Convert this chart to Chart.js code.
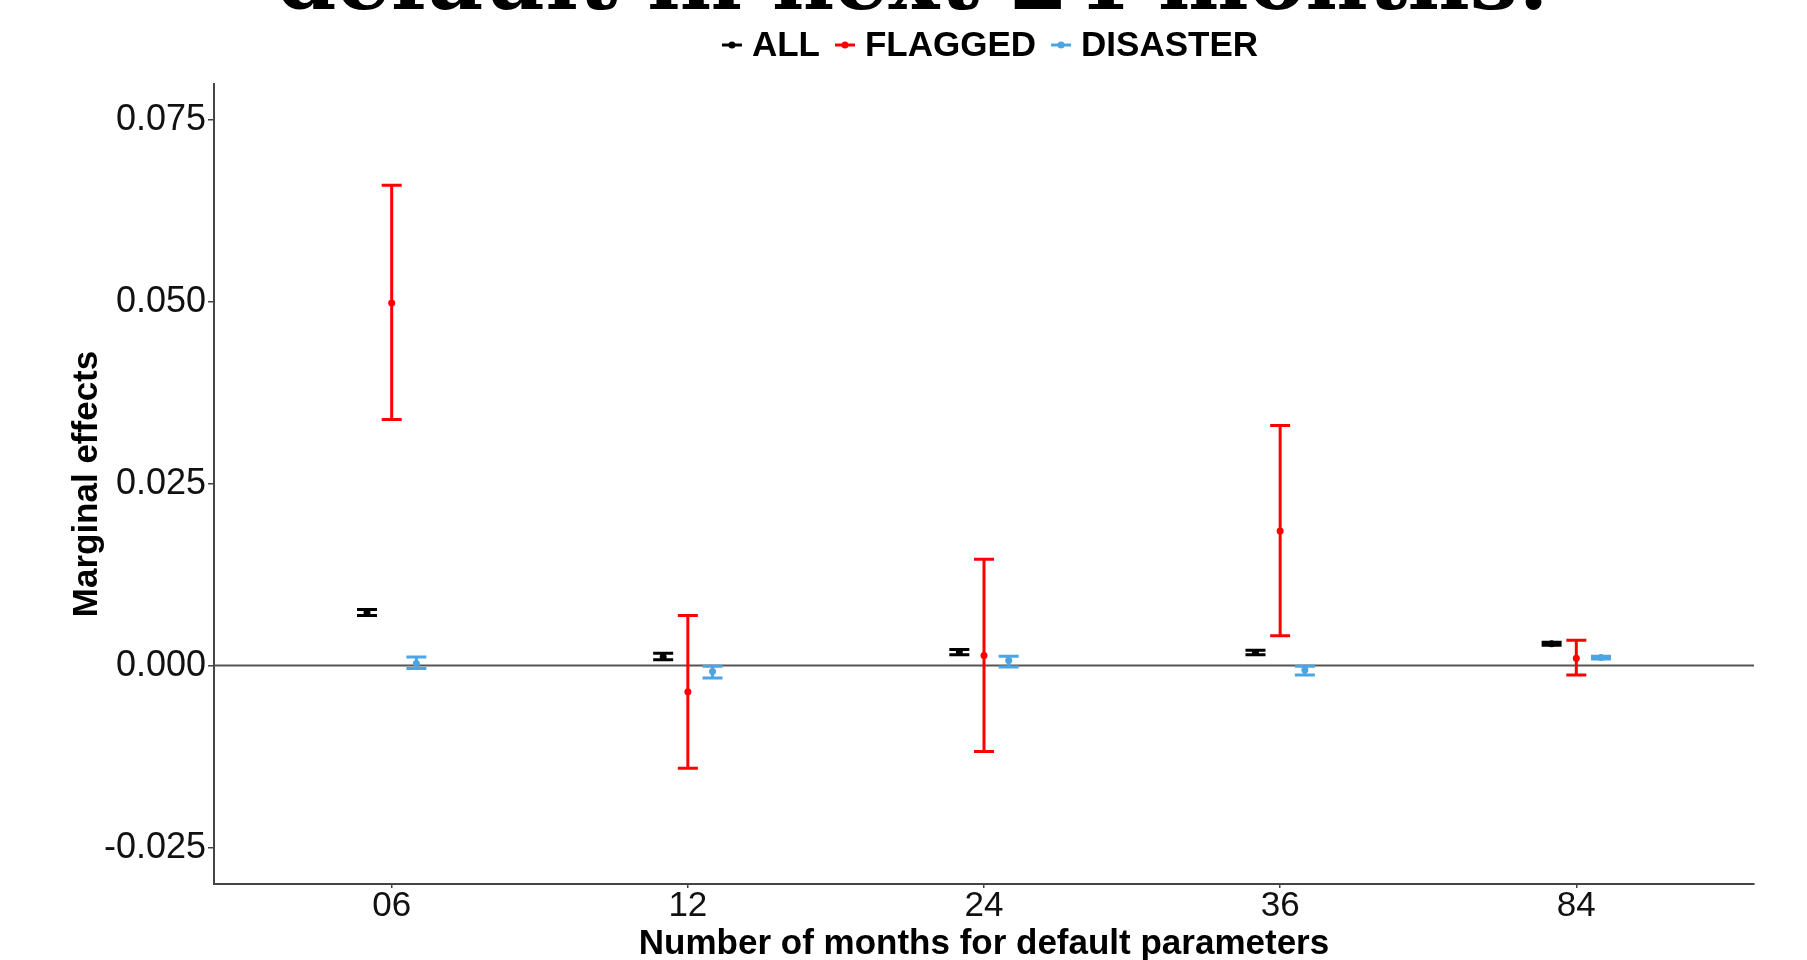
<!DOCTYPE html>
<html>
<head>
<meta charset="utf-8">
<script src="https://cdn.jsdelivr.net/npm/chart.js@4.4.1/dist/chart.umd.min.js"></script>
<style>
  html, body { margin: 0; padding: 0; background: #ffffff; }
  #wrap { width: 1807px; height: 960px; position: relative; }
</style>
</head>
<body>
<div id="wrap"><canvas id="c" width="1807" height="960"></canvas></div>
<script>
// Horizon (months) used to build the default parameters
const categories = ['06', '12', '24', '36', '84'];

// Marginal effects with 95% confidence bounds, one set per sample
const allEst  = [0.0073, 0.0012, 0.0019, 0.0018, 0.0030];
const allLow  = [0.0069, 0.0008, 0.0015, 0.0015, 0.0028];
const allHigh = [0.0077, 0.0017, 0.0022, 0.0021, 0.0032];

const flaggedEst  = [0.0498, -0.0036, 0.0014, 0.0185, 0.0010];
const flaggedLow  = [0.0338, -0.0141, -0.0118, 0.0041, -0.0013];
const flaggedHigh = [0.0660, 0.0069, 0.0146, 0.0330, 0.0035];

const disasterEst  = [0.0003, -0.0008, 0.0007, -0.0006, 0.0011];
const disasterLow  = [-0.0004, -0.0017, -0.0002, -0.0013, 0.0009];
const disasterHigh = [0.0012, -0.0001, 0.0013, -0.0001, 0.0013];

const yTicks = [-0.025, 0, 0.025, 0.05, 0.075];

const headline = 'default in next 24 months:';

// Side-by-side dodge of the three samples inside each horizon
const DODGE = 0.25 / 3;
const CAP_HALF = 10;

const series = [
  { name: 'ALL',      est: allEst,      low: allLow,      high: allHigh,      color: '#000000', shift: -DODGE },
  { name: 'FLAGGED',  est: flaggedEst,  low: flaggedLow,  high: flaggedHigh,  color: '#FF0000', shift: 0 },
  { name: 'DISASTER', est: disasterEst, low: disasterLow, high: disasterHigh, color: '#4BA5E2', shift: DODGE }
];

const SANS = '"Liberation Sans", Arial, Helvetica, sans-serif';

const datasets = series.map(s => ({
  type: 'scatter',
  label: s.name,
  data: s.est.map((v, i) => ({ x: i + s.shift, y: v, low: s.low[i], high: s.high[i] })),
  backgroundColor: s.color,
  borderColor: s.color,
  borderWidth: 0,
  pointRadius: 3.5,
  pointHoverRadius: 3.5
}));

// Zero reference line and confidence intervals, drawn beneath the point markers
const errorBars = {
  id: 'errorBars',
  beforeDatasetsDraw(chart) {
    const { ctx, chartArea, scales } = chart;
    const y = scales.y;
    ctx.save();
    const y0 = y.getPixelForValue(0);
    ctx.strokeStyle = '#555555';
    ctx.lineWidth = 2;
    ctx.beginPath();
    ctx.moveTo(chartArea.left, y0);
    ctx.lineTo(chartArea.right, y0);
    ctx.stroke();

    chart.data.datasets.forEach((ds, di) => {
      const meta = chart.getDatasetMeta(di);
      ctx.strokeStyle = ds.borderColor;
      ctx.lineWidth = 3;
      ctx.lineCap = 'butt';
      meta.data.forEach((pt, i) => {
        const d = ds.data[i];
        const px = pt.x;
        const yl = y.getPixelForValue(d.low);
        const yh = y.getPixelForValue(d.high);
        ctx.beginPath();
        ctx.moveTo(px, yl); ctx.lineTo(px, yh);
        ctx.moveTo(px - CAP_HALF, yl); ctx.lineTo(px + CAP_HALF, yl);
        ctx.moveTo(px - CAP_HALF, yh); ctx.lineTo(px + CAP_HALF, yh);
        ctx.stroke();
      });
    });
    ctx.restore();
  }
};

// Horizontal key above the panel and the heading line at the very top
const keyAndHeading = {
  id: 'keyAndHeading',
  afterDraw(chart) {
    const { ctx } = chart;
    ctx.save();

    // heading
    ctx.fillStyle = '#000000';
    ctx.textAlign = 'center';
    ctx.textBaseline = 'alphabetic';
    ctx.font = 'bold 100px "DejaVu Serif", serif';
    const w100 = ctx.measureText(headline).width;
    const hs = 100 * 1273 / w100;
    ctx.font = 'bold ' + hs + 'px "DejaVu Serif", serif';
    ctx.fillText(headline, 913, 9);

    // key
    ctx.font = 'bold 35px ' + SANS;
    ctx.textAlign = 'left';
    ctx.textBaseline = 'middle';
    const symW = 20, gapIn = 10, gapOut = 15;
    const items = chart.data.datasets.map(ds => ({ label: ds.label, color: ds.borderColor, tw: ctx.measureText(ds.label).width }));
    let total = 0;
    items.forEach((it, k) => { total += symW + gapIn + it.tw + (k < items.length - 1 ? gapOut : 0); });
    let x = 990 - total / 2;
    const yc = 45;
    items.forEach(it => {
      ctx.strokeStyle = it.color;
      ctx.fillStyle = it.color;
      ctx.lineWidth = 3;
      ctx.beginPath();
      ctx.moveTo(x, yc); ctx.lineTo(x + symW, yc);
      ctx.stroke();
      ctx.beginPath();
      ctx.arc(x + symW / 2, yc, 3.5, 0, Math.PI * 2);
      ctx.fill();
      x += symW + gapIn;
      ctx.fillStyle = '#000000';
      ctx.fillText(it.label, x, yc + 1);
      x += it.tw + gapOut;
    });
    ctx.restore();
  }
};

new Chart(document.getElementById('c'), {
  type: 'scatter',
  data: { datasets },
  plugins: [errorBars, keyAndHeading],
  options: {
    responsive: false,
    animation: false,
    devicePixelRatio: 1,
    layout: { padding: { left: 0, top: 84, right: 53, bottom: 0 } },
    plugins: {
      legend: { display: false },
      tooltip: { enabled: false },
      title: { display: false }
    },
    scales: {
      x: {
        type: 'linear',
        min: -0.6,
        max: 4.6,
        afterBuildTicks: s => { s.ticks = categories.map((c, i) => ({ value: i })); },
        afterFit: s => { s.height = 76; },
        ticks: {
          callback: v => categories[v],
          font: { family: SANS, size: 35, lineHeight: 1 },
          color: '#111111',
          padding: 1,
          maxRotation: 0,
          autoSkip: false
        },
        grid: { drawOnChartArea: false, drawTicks: true, tickLength: 4, color: '#444444', lineWidth: 1.5 },
        border: { display: true, color: '#444444', width: 2 },
        title: {
          display: true,
          text: 'Number of months for default parameters',
          color: '#000000',
          font: { family: SANS, size: 35, weight: 'bold', lineHeight: 0.88 },
          padding: { top: 0, bottom: 0 }
        }
      },
      y: {
        type: 'linear',
        min: -0.0300,
        max: 0.0799,
        afterBuildTicks: s => { s.ticks = yTicks.map(v => ({ value: v })); },
        afterFit: s => { s.width = 214; },
        ticks: {
          callback: v => Number(v).toFixed(3),
          font: { family: SANS, size: 36, lineHeight: 1 },
          color: '#111111',
          padding: 2
        },
        grid: { drawOnChartArea: false, drawTicks: true, tickLength: 6, color: '#444444', lineWidth: 1.5 },
        border: { display: true, color: '#444444', width: 2 },
        title: {
          display: true,
          text: 'Marginal effects',
          color: '#000000',
          font: { family: SANS, size: 35, weight: 'bold', lineHeight: 1 },
          padding: { top: 70, bottom: 0 }
        }
      }
    }
  }
});
</script>
</body>
</html>
